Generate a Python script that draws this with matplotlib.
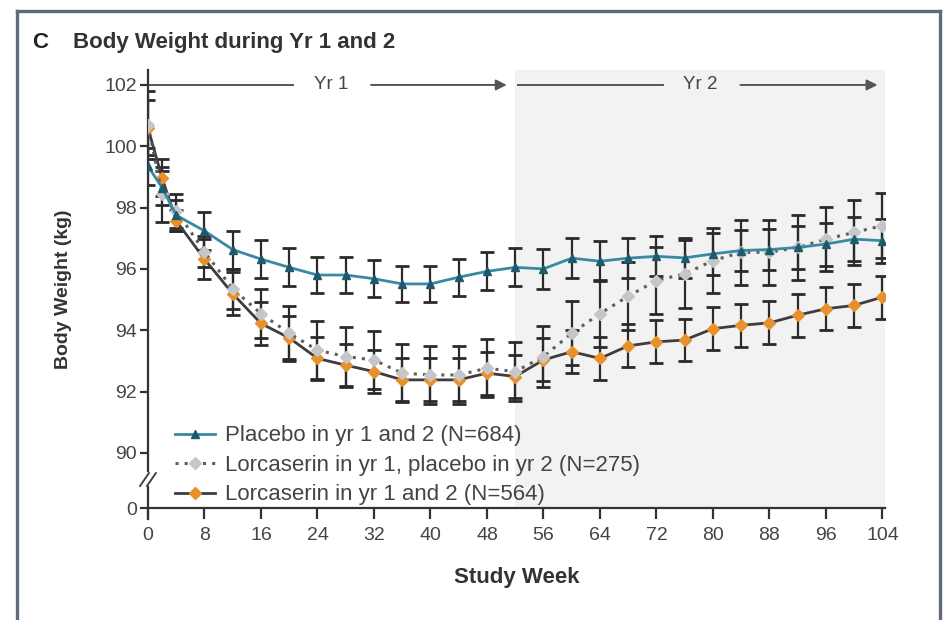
import matplotlib
matplotlib.use("Agg")
import matplotlib.pyplot as plt
from matplotlib import font_manager
from matplotlib.lines import Line2D
import matplotlib.transforms as mtransforms

avail = {f.name for f in font_manager.fontManager.ttflist}
FAM = "Liberation Sans" if "Liberation Sans" in avail else "DejaVu Sans"
plt.rcParams["font.family"] = [FAM, "DejaVu Sans"]

# ---------------- data ----------------
weeks = [0, 2, 4, 8, 12, 16, 20, 24, 28, 32, 36, 40, 44, 48, 52,
         56, 60, 64, 68, 72, 76, 80, 84, 88, 92, 96, 100, 104]

placebo = [99.35, 98.65, 97.75, 97.24, 96.63, 96.32, 96.05, 95.80, 95.80, 95.68,
           95.51, 95.51, 95.73, 95.92, 96.05, 96.00, 96.35, 96.25, 96.35, 96.41,
           96.36, 96.49, 96.60, 96.63, 96.70, 96.81, 96.97, 96.92]
placebo_err = [0.6, 0.55, 0.5, 0.62, 0.62, 0.62, 0.62, 0.6, 0.6, 0.6,
               0.6, 0.6, 0.6, 0.62, 0.62, 0.65, 0.65, 0.65, 0.65, 0.65,
               0.65, 0.68, 0.68, 0.68, 0.7, 0.7, 0.72, 0.72]

lorc_plac = [100.70, 98.43, 97.90, 96.56, 95.35, 94.54, 93.90, 93.35, 93.14, 93.03,
             92.60, 92.54, 92.54, 92.76, 92.65, 93.14, 93.90, 94.54, 95.11, 95.62,
             95.84, 96.27, 96.54, 96.54, 96.70, 96.97, 97.19, 97.41]
lorc_plac_err = [1.1, 0.9, 0.55, 0.5, 0.65, 0.8, 0.9, 0.95, 0.95, 0.95,
                 0.95, 0.95, 0.95, 0.95, 0.95, 1.0, 1.05, 1.1, 1.1, 1.1,
                 1.1, 1.05, 1.05, 1.05, 1.05, 1.05, 1.05, 1.05]

lorc = [100.60, 98.97, 97.57, 96.32, 95.19, 94.22, 93.75, 93.08, 92.86, 92.65,
        92.38, 92.38, 92.38, 92.60, 92.49, 93.03, 93.30, 93.08, 93.49, 93.62,
        93.68, 94.05, 94.16, 94.24, 94.49, 94.70, 94.81, 95.08]
lorc_err = [0.9, 0.6, 0.35, 0.65, 0.7, 0.7, 0.7, 0.7, 0.7, 0.7,
            0.7, 0.7, 0.7, 0.7, 0.7, 0.7, 0.7, 0.7, 0.7, 0.7,
            0.7, 0.7, 0.7, 0.7, 0.7, 0.7, 0.7, 0.7]

labels = ["Placebo in yr 1 and 2 (N=684)",
          "Lorcaserin in yr 1, placebo in yr 2 (N=275)",
          "Lorcaserin in yr 1 and 2 (N=564)"]

xticks = list(range(0, 105, 8))
yticks = [90, 92, 94, 96, 98, 100, 102]
ZERO_POS = 88.2   # position on the broken axis where "0" sits

# ---------------- figure ----------------
fig = plt.figure(figsize=(9.46, 6.20), dpi=100)
ax = fig.add_axes([0.1564, 0.1806, 0.7794, 0.7071])
ax.set_xlim(0, 104.4)
ax.set_ylim(ZERO_POS, 102.5)

# shaded year-2 region
ax.axvspan(52, 104.4, color="#f2f2f2", zorder=0, lw=0)

EC = "#2a2a2a"
ekw = dict(fmt="none", ecolor=EC, elinewidth=1.6, capsize=4.7, capthick=2.0, zorder=2)
ax.errorbar(weeks, lorc_plac, yerr=lorc_plac_err, **ekw)
ax.errorbar(weeks, placebo, yerr=placebo_err, **ekw)
ax.errorbar(weeks, lorc, yerr=lorc_err, **ekw)

ax.plot(weeks, placebo, color="#3a88a3", lw=2.0, marker="^", ms=6,
        mfc="#1e5a6e", mec="#1e5a6e", zorder=4, label=labels[0])
ax.plot(weeks, lorc_plac, color="#5e5e5e", lw=2.2, ls=(0, (1, 2.0)), marker="D", ms=6.5,
        mfc="#c4c6c9", mec="#c4c6c9", zorder=3.6, label=labels[1])
ax.plot(weeks, lorc, color="#3d3d3d", lw=2.0, marker="D", ms=6.5,
        mfc="#e8912c", mec="#e8912c", zorder=3.3, label=labels[2])

# axes styling
for s in ["top", "right"]:
    ax.spines[s].set_visible(False)
ax.spines["bottom"].set_linewidth(1.6)
ax.spines["bottom"].set_color("#333333")
ax.spines["left"].set_linewidth(1.6)
ax.spines["left"].set_color("#333333")
ax.spines["left"].set_bounds(89.4, 102.5)

ax.set_xticks(xticks)
ax.set_xticklabels([str(t) for t in xticks])
ax.set_yticks([ZERO_POS] + yticks)
ax.set_yticklabels(["0"] + [str(t) for t in yticks])
ax.tick_params(axis="x", direction="out", length=8, width=1.6, colors="#333333",
               labelsize=14, labelcolor="#444444", pad=6)
ax.tick_params(axis="y", direction="out", length=6, width=1.6, colors="#333333",
               labelsize=14, labelcolor="#444444", pad=2)

# lower piece of the broken left spine and break marks
yt = ax.get_yaxis_transform()
ax.add_line(Line2D([0, 0], [ZERO_POS - 0.35, 88.88], transform=yt, color="#333333",
                   lw=1.6, clip_on=False))
for dx in (-2.5, 2.5):
    off = mtransforms.offset_copy(yt, fig=fig, x=dx, y=0, units="points")
    ax.add_line(Line2D([-0.006, 0.006], [88.92, 89.34], transform=off,
                       color="#444444", lw=1.4, clip_on=False))

ax.set_xlabel("Study Week", fontsize=16, fontweight="bold", color="#333333")
ax.set_ylabel("Body Weight (kg)", fontsize=14, fontweight="bold", color="#333333")
ax.xaxis.set_label_coords(0.5, -0.135)
ax.yaxis.set_label_coords(-0.103, 0.5)

# Yr 1 / Yr 2 arrows
ARW = "#555555"
ax.plot([0.3, 20.6], [102, 102], color=ARW, lw=1.4, clip_on=False, zorder=5)
ax.annotate("", xy=(51.2, 102), xytext=(31.2, 102),
            arrowprops=dict(arrowstyle="-|>", color=ARW, lw=1.4, mutation_scale=16))
ax.text(26.0, 102, "Yr 1", ha="center", va="center", fontsize=13.5, color="#444444")
ax.plot([52.4, 72.9], [102, 102], color=ARW, lw=1.4, clip_on=False, zorder=5)
ax.annotate("", xy=(103.7, 102), xytext=(83.5, 102),
            arrowprops=dict(arrowstyle="-|>", color=ARW, lw=1.4, mutation_scale=16))
ax.text(78.2, 102, "Yr 2", ha="center", va="center", fontsize=13.5, color="#444444")

leg = ax.legend(loc="lower left", bbox_to_anchor=(0.031, -0.004), frameon=False,
                fontsize=16, handlelength=1.8, handletextpad=0.45, labelspacing=0.38,
                borderaxespad=0.0, borderpad=0.2)
for t in leg.get_texts():
    t.set_color("#444444")

# title
fig.text(0.034, 0.932, "C", fontsize=16, fontweight="bold", color="#222222", va="center")
fig.text(0.077, 0.932, "Body Weight during Yr 1 and 2", fontsize=16, fontweight="bold",
         color="#333333", va="center")

# outer frame (top, left, right)
FC = "#5f6b78"
fig.add_artist(Line2D([0.018, 0.9937], [0.982, 0.982], transform=fig.transFigure,
                      color=FC, lw=2.4))
fig.add_artist(Line2D([0.018, 0.018], [0.0, 0.982], transform=fig.transFigure,
                      color=FC, lw=2.4))
fig.add_artist(Line2D([0.9937, 0.9937], [0.0, 0.982], transform=fig.transFigure,
                      color=FC, lw=2.4))

fig.savefig("out.png", dpi=100)
